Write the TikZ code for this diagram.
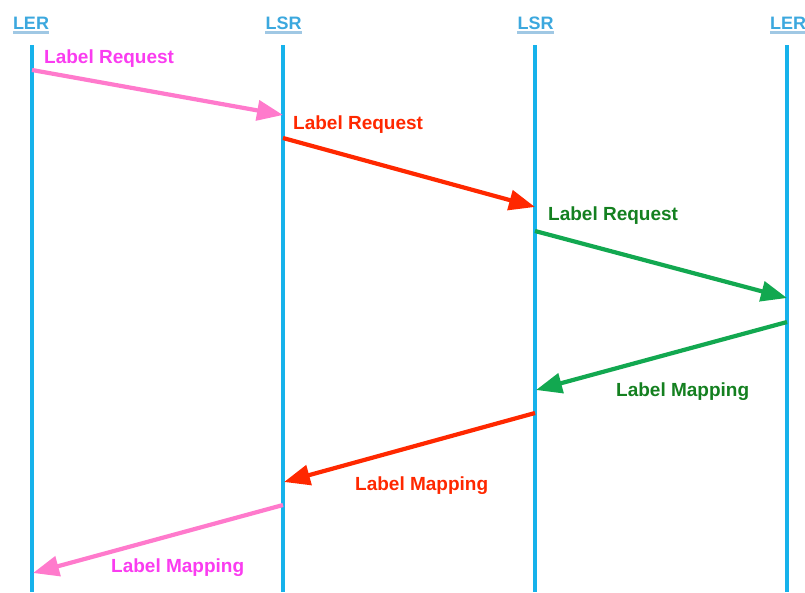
\documentclass[tikz,border=0pt]{standalone}
\usepackage{fontspec}
\setmainfont{Liberation Sans}
\usetikzlibrary{arrows.meta}

\definecolor{lifeblue}{RGB}{22,178,235}
\definecolor{hdrblue}{RGB}{60,168,222}
\definecolor{hdrline}{RGB}{160,200,228}
\definecolor{pinkline}{RGB}{255,122,204}
\definecolor{pinktext}{RGB}{250,60,240}
\definecolor{redline}{RGB}{255,40,0}
\definecolor{greenline}{RGB}{18,168,80}
\definecolor{greentext}{RGB}{20,128,32}

\begin{document}
\begin{tikzpicture}[x=1pt, y=-1pt,
  life/.style={line width=4.2pt, lifeblue},
  msg/.style={line width=4.2pt, -{Triangle[length=26pt,width=20pt]}},
  hdr/.style={font=\bfseries\fontsize{18}{18}\selectfont, text=hdrblue, inner sep=0pt, anchor=base},
  lbl/.style={font=\bfseries\fontsize{19}{19}\selectfont, inner sep=0pt, anchor=base west}]
  \useasboundingbox (0,0) rectangle (805,592);

  % Define lifelines
  \coordinate (ler1top) at (32,45);   \coordinate (ler1bot) at (32,592);
  \coordinate (lsr1top) at (283,45);  \coordinate (lsr1bot) at (283,592);
  \coordinate (lsr2top) at (535,45);  \coordinate (lsr2bot) at (535,592);
  \coordinate (ler2top) at (787,45);  \coordinate (ler2bot) at (787,592);

  % Headers
  \node[hdr] (ler1) at (31,29.5) {LER};
  \node[hdr] (lsr1) at (283.5,29.5) {LSR};
  \node[hdr] (lsr2) at (535.5,29.5) {LSR};
  \node[hdr] (ler2) at (788,29.5) {LER};
  \foreach \h in {ler1,lsr1,lsr2,ler2}
    \draw[hdrline, line width=2.5pt] ([yshift=-3pt]\h.base west) -- ([yshift=-3pt]\h.base east);

  % Draw lifelines
  \draw[life] (ler1top) -- (ler1bot);
  \draw[life] (lsr1top) -- (lsr1bot);
  \draw[life] (lsr2top) -- (lsr2bot);
  \draw[life] (ler2top) -- (ler2bot);

  % Message end points on the lifelines
  \coordinate (req1s) at (32,70);   \coordinate (req1e) at (283,115);
  \coordinate (req2s) at (283,138); \coordinate (req2e) at (535,207);
  \coordinate (req3s) at (535,231); \coordinate (req3e) at (787,298);
  \coordinate (map1s) at (787,322); \coordinate (map1e) at (536,390);
  \coordinate (map2s) at (535,413); \coordinate (map2e) at (284,482);
  \coordinate (map3s) at (283,505); \coordinate (map3e) at (33,573);

  % Requests going right
  \draw[msg, pinkline] (req1s) -- (req1e);
  \draw[msg, redline] (req2s) -- (req2e);
  \draw[msg, greenline] (req3s) -- (req3e);

  % Mappings coming back
  \draw[msg, greenline] (map1s) -- (map1e);
  \draw[msg, redline] (map2s) -- (map2e);
  \draw[msg, pinkline] (map3s) -- (map3e);

  % Labels
  \node[lbl, pinktext] (req1lbl) at (44,63) {Label Request};
  \node[lbl, redline] (req2lbl) at (293,129.5) {Label Request};
  \node[lbl, greentext] (req3lbl) at (548,220) {Label Request};
  \node[lbl, greentext] (map1lbl) at (616,396) {Label Mapping};
  \node[lbl, redline] (map2lbl) at (355,490) {Label Mapping};
  \node[lbl, pinktext] (map3lbl) at (111,572) {Label Mapping};
\end{tikzpicture}
\end{document}
